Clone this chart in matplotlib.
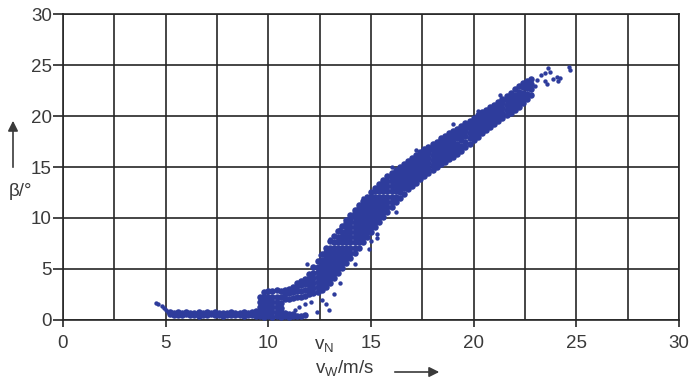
import matplotlib
matplotlib.use("Agg")
import matplotlib.pyplot as plt

plt.rcParams["font.family"] = ["Liberation Sans", "DejaVu Sans"]
plt.rcParams["mathtext.fontset"] = "custom"
plt.rcParams["mathtext.rm"] = "Liberation Sans"

# Data -----------------------------------------
# start of the curve, below cut-in
start_x = [4.55, 4.65, 4.8, 4.9, 5.0, 5.1]
start_y = [1.7, 1.55, 1.35, 1.15, 0.95, 0.8]

# flat part, beta ~ 0.5
flat_x = [5.2, 5.4, 5.6, 5.8, 6.0, 6.2, 6.4, 6.6, 6.8, 7.0, 7.2, 7.4, 7.6,
          7.8, 8.0, 8.2, 8.4, 8.6, 8.8, 9.0, 9.2, 9.4]
flat_lo = [0.6, 0.45, 0.5, 0.45, 0.55, 0.45, 0.5, 0.4, 0.5, 0.45, 0.55, 0.45,
           0.5, 0.4, 0.5, 0.45, 0.5, 0.45, 0.4, 0.5, 0.45, 0.4]
flat_hi = [0.75, 0.7, 0.75, 0.7, 0.75, 0.7, 0.7, 0.75, 0.7, 0.75, 0.7, 0.75,
           0.7, 0.72, 0.7, 0.75, 0.7, 0.72, 0.75, 0.7, 0.8, 0.9]

# transition and ramp: columns of (wind speed, pitch angles)
ramp_cols = [
    (9.6, [0.35, 0.8, 1.3, 1.8, 2.3]),
    (9.8, [0.3, 0.75, 1.25, 1.75, 2.25, 2.75]),
    (10.0, [0.35, 0.8, 1.3, 1.8, 2.3, 2.85]),
    (10.2, [0.3, 0.75, 1.25, 1.75, 2.25, 2.8]),
    (10.4, [0.35, 0.8, 1.3, 1.8, 2.3, 2.9]),
    (10.6, [0.3, 0.75, 1.2, 1.7, 2.25, 2.85]),
    (10.8, [0.35, 0.7, 2.05, 2.5, 2.95]),
    (11.0, [0.3, 0.6, 2.1, 2.6, 3.05]),
    (11.2, [0.35, 0.6, 2.2, 2.7, 3.25]),
    (11.4, [0.4, 2.3, 2.8, 3.35, 3.6]),
    (11.6, [0.4, 2.3, 2.85, 3.4, 3.8]),
    (11.8, [0.45, 2.4, 2.9, 3.5, 4.0]),
    (12.0, [2.5, 3.0, 3.5, 4.0, 4.5]),
    (12.2, [2.6, 3.1, 3.6, 4.1, 4.6, 5.2]),
    (12.4, [2.7, 3.2, 3.7, 4.2, 4.7, 5.2, 5.8]),
    (12.6, [2.9, 3.4, 3.9, 4.4, 4.9, 5.4, 5.9, 6.5]),
    (12.8, [3.2, 3.7, 4.2, 4.7, 5.2, 5.7, 6.2, 6.7, 7.1]),
    (13.0, [3.6, 4.1, 4.6, 5.1, 5.6, 6.1, 6.6, 7.1, 7.7]),
    (13.2, [4.1, 4.6, 5.1, 5.6, 6.1, 6.6, 7.1, 7.6, 8.2]),
    (13.4, [4.6, 5.1, 5.6, 6.1, 6.6, 7.1, 7.6, 8.1, 8.7]),
    (13.6, [5.1, 5.6, 6.1, 6.6, 7.1, 7.6, 8.1, 8.6, 9.2]),
    (13.8, [5.6, 6.1, 6.6, 7.1, 7.6, 8.1, 8.6, 9.1, 9.5, 9.8]),
    (14.0, [6.1, 6.6, 7.1, 7.6, 8.1, 8.6, 9.1, 9.6, 10.0, 10.3]),
    (14.2, [6.6, 7.1, 7.6, 8.1, 8.6, 9.1, 9.6, 10.1, 10.5, 10.8]),
    (14.4, [7.1, 7.6, 8.1, 8.6, 9.1, 9.6, 10.1, 10.6, 11.0, 11.3]),
    (14.6, [7.6, 8.1, 8.6, 9.1, 9.6, 10.1, 10.6, 11.1, 11.4, 11.7]),
    (14.8, [8.1, 8.6, 9.1, 9.6, 10.1, 10.6, 11.1, 11.6, 12.1]),
    (15.0, [8.6, 9.1, 9.6, 10.1, 10.6, 11.1, 11.6, 12.1, 12.5]),
    (15.2, [9.1, 9.6, 10.1, 10.6, 11.1, 11.6, 12.1, 12.6, 12.9]),
    (15.4, [9.6, 10.1, 10.6, 11.1, 11.6, 12.1, 12.6, 13.0, 13.3]),
    (15.6, [10.1, 10.6, 11.1, 11.6, 12.1, 12.6, 13.1, 13.5, 13.7]),
    (15.8, [10.6, 11.1, 11.6, 12.1, 12.6, 13.1, 13.6, 14.1]),
    (16.0, [11.1, 11.6, 12.1, 12.6, 13.1, 13.6, 14.0, 14.4]),
    (16.2, [11.6, 12.1, 12.6, 13.1, 13.6, 14.1, 14.4, 14.7]),
    (16.4, [12.0, 12.5, 13.0, 13.5, 14.0, 14.5, 15.0]),
    (16.6, [12.4, 12.9, 13.4, 13.9, 14.4, 14.9, 15.3]),
    (16.8, [12.8, 13.3, 13.8, 14.3, 14.8, 15.3, 15.6]),
    (17.0, [13.1, 13.6, 14.1, 14.6, 15.1, 15.6, 15.9]),
    (17.2, [13.4, 13.9, 14.4, 14.9, 15.4, 15.9, 16.2]),
    (17.4, [13.8, 14.3, 14.8, 15.3, 15.8, 16.2, 16.5]),
    (17.6, [14.1, 14.6, 15.1, 15.6, 16.1, 16.5, 16.8]),
    (17.8, [14.4, 14.9, 15.4, 15.9, 16.4, 16.7, 17.0]),
    (18.0, [14.7, 15.2, 15.7, 16.2, 16.7, 17.0, 17.3]),
    (18.2, [15.0, 15.5, 16.0, 16.5, 17.0, 17.3, 17.5]),
    (18.4, [15.3, 15.8, 16.3, 16.8, 17.3, 17.6, 17.8]),
    (18.6, [15.5, 16.0, 16.5, 17.0, 17.5, 17.8, 18.0]),
    (18.8, [15.8, 16.3, 16.8, 17.3, 17.7, 18.0, 18.3]),
    (19.0, [16.0, 16.5, 17.0, 17.5, 17.9, 18.2, 18.5]),
    (19.2, [16.3, 16.8, 17.3, 17.8, 18.2, 18.5, 18.7]),
    (19.4, [16.6, 17.1, 17.6, 18.1, 18.5, 18.8, 19.0]),
    (19.6, [17.0, 17.5, 18.0, 18.5, 18.9, 19.1, 19.3]),
    (19.8, [17.3, 17.8, 18.3, 18.8, 19.2, 19.5]),
    (20.0, [17.6, 18.1, 18.6, 19.1, 19.5, 19.8]),
    (20.2, [17.9, 18.4, 18.9, 19.4, 19.8, 20.1]),
    (20.4, [18.3, 18.8, 19.3, 19.8, 20.1, 20.4]),
    (20.6, [18.6, 19.1, 19.6, 20.1, 20.4, 20.6]),
    (20.8, [18.9, 19.4, 19.9, 20.4, 20.7, 20.9]),
    (21.0, [19.2, 19.7, 20.2, 20.7, 21.1]),
    (21.2, [19.5, 20.0, 20.5, 21.0, 21.4]),
    (21.4, [19.8, 20.3, 20.8, 21.3, 21.7]),
    (21.6, [20.1, 20.6, 21.1, 21.6, 22.0]),
    (21.8, [20.3, 20.8, 21.3, 21.8, 22.3]),
    (22.0, [20.6, 21.1, 21.6, 22.1, 22.6]),
    (22.2, [20.9, 21.4, 21.9, 22.4, 22.9]),
    (22.4, [21.3, 21.8, 22.3, 22.8, 23.2]),
    (22.6, [21.7, 22.2, 22.7, 23.1, 23.4]),
    (22.8, [22.1, 22.6, 23.1, 23.6]),
]

# scattered single points (inside the gap, outliers, sparse top end)
stray_x = [11.3, 11.5, 11.8, 12.1, 12.35, 12.6, 12.83, 12.96, 13.2, 13.5,
           14.2, 14.9, 15.3, 11.9, 12.5, 13.0, 13.5, 14.6, 16.0, 17.2,
           15.0, 15.3, 16.2, 19.0, 20.2, 21.3, 23.0, 23.1, 23.3, 23.45,
           23.45, 23.56, 23.6, 23.7, 23.85, 24.05, 24.1, 24.2, 24.66, 24.7]
stray_y = [1.0, 1.3, 1.6, 1.8, 0.8, 1.96, 1.6, 1.0, 2.5, 3.6,
           5.5, 7.0, 8.0, 5.5, 6.4, 7.9, 8.9, 12.0, 15.0, 16.7,
           7.7, 8.4, 10.6, 19.2, 20.5, 22.1, 22.9, 23.5, 24.0, 24.2,
           23.4, 23.1, 24.7, 24.3, 23.6, 23.8, 23.4, 23.7, 24.8, 24.5]
# ------------------------------------------------

band_x, band_y = [], []
for vx, ys in ramp_cols:
    band_x += [vx] * len(ys)
    band_y += ys

grid_col = "#262626"
text_col = "#3a3a3a"
dot_col = "#2E3C9C"

fig = plt.figure(figsize=(6.89, 3.84), dpi=100)
ax = fig.add_axes([0.0914, 0.1667, 0.8941, 0.7968])

# dense band drawn with larger dots so it reads as a solid cloud
ax.scatter(band_x + flat_x + flat_x, band_y + flat_lo + flat_hi, s=22,
           color=dot_col, linewidths=0, zorder=3)
ax.scatter(start_x + stray_x, start_y + stray_y, s=10,
           color=dot_col, linewidths=0, zorder=3)

ax.set_xlim(0, 30)
ax.set_ylim(0, 30)
ax.set_xticks(range(0, 31, 5))
ax.set_xticks([2.5 + 5 * i for i in range(6)], minor=True)
ax.set_yticks(range(0, 31, 5))
ax.grid(True, which="major", color=grid_col, linewidth=1.2)
ax.grid(True, which="minor", axis="x", color=grid_col, linewidth=1.2)
ax.tick_params(axis="x", which="major", length=5, width=1.2, color=grid_col,
               labelsize=13.5, labelcolor=text_col, pad=6)
ax.tick_params(axis="x", which="minor", length=0)
ax.tick_params(axis="y", which="major", length=7, width=1.2, color=grid_col,
               labelsize=13.5, labelcolor=text_col, pad=1)
for sp in ax.spines.values():
    sp.set_color(grid_col)
    sp.set_linewidth(1.2)

# axis labels with arrows
fig.text(21 / 689, 1 - 192 / 384, "β/°", ha="center", va="center",
         fontsize=13.5, color=text_col)
fig.add_artist(matplotlib.patches.FancyArrowPatch(
    (13 / 689, 1 - 170 / 384), (13 / 689, 1 - 118 / 384),
    transform=fig.transFigure, arrowstyle="-|>,head_length=6,head_width=3",
    color=text_col, linewidth=1.2))

fig.text(345 / 689, 1 - 368 / 384, r"$\mathregular{v_W}$/m/s", ha="center",
         va="center", fontsize=13.5, color=text_col)
fig.add_artist(matplotlib.patches.FancyArrowPatch(
    (392 / 689, 1 - 372 / 384), (442 / 689, 1 - 372 / 384),
    transform=fig.transFigure, arrowstyle="-|>,head_length=6,head_width=3",
    color=text_col, linewidth=1.2))

fig.text(324 / 689, 1 - 345 / 384, r"$\mathregular{v_N}$", ha="center",
         va="center", fontsize=13.5, color=text_col)

fig.savefig("out.png", dpi=100)
